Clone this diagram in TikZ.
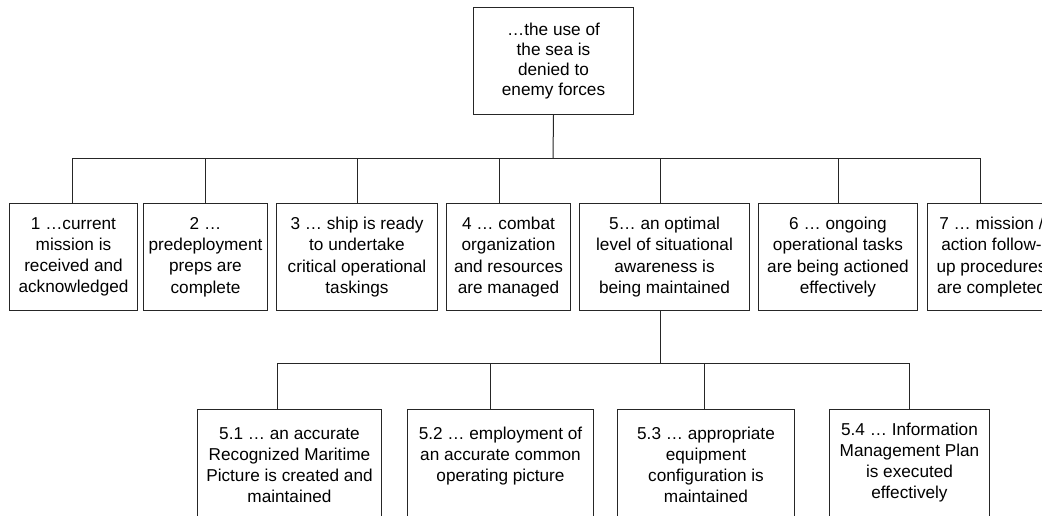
\documentclass[tikz,border=0pt]{standalone}
\usepackage{fontspec}
\setmainfont{Liberation Sans}
\newcommand\toptext[3]{\parbox[c][120pt][t]{#1}{\centering\vspace*{#2}\strut#3}}
\tikzset{
  box/.style={draw=black!85, line width=1pt, fill=white, align=center, inner sep=0pt,
    anchor=north west, font=\fontsize{17.2}{21.2}\selectfont},
  lvlone/.style={box, minimum height=107pt},
  conn/.style={draw=black!85, line width=1pt}
}
\begin{document}
\begin{tikzpicture}[x=1pt,y=-1pt]
\useasboundingbox (0,0) rectangle (1042,515);
\fill[white] (0,0) rectangle (1042,515);
\clip (0,0) rectangle (1042,515);

% top
\node[box, minimum width=160pt, minimum height=107pt, font=\fontsize{17.2}{20.2}\selectfont] (top) at (473,7)
  {…the use of\\the sea is\\denied to\\enemy forces};

% level one
\node[lvlone, minimum width=128pt] (b1) at (9,203) {1 …current\\mission is\\received and\\acknowledged};
\node[lvlone, minimum width=124pt] (b2) at (143,203) {2 …\\predeployment\\preps are\\complete};
\node[lvlone, minimum width=161pt] (b3) at (276,203) {3 … ship is ready\\to undertake\\critical operational\\taskings};
\node[lvlone, minimum width=124pt] (b4) at (446,203) {4 … combat\\organization\\and resources\\are managed};
\node[lvlone, minimum width=170pt] (b5) at (579,203) {5… an optimal\\level of situational\\awareness is\\being maintained};
\node[lvlone, minimum width=159pt] (b6) at (758,203) {6 … ongoing\\operational tasks\\are being actioned\\effectively};
\node[lvlone, minimum width=128pt] (b7) at (927,203) {7 … mission /\\action follow-\\up procedures\\are completed};

% level two
\node[box] (c1) at (197,409) {\toptext{184pt}{15pt}{5.1 … an accurate\\Recognized Maritime\\Picture is created and\\maintained}};
\node[box] (c2) at (407,409) {\toptext{186pt}{15pt}{5.2 … employment of\\an accurate common\\operating picture}};
\node[box] (c3) at (617,409) {\toptext{177pt}{15pt}{5.3 … appropriate\\equipment\\configuration is\\maintained}};
\node[box] (c4) at (829,409) {\toptext{160pt}{11pt}{5.4 … Information\\Management Plan\\is executed\\effectively}};

% bus coordinates
\coordinate (k0) at (553,158);
\coordinate (k1) at (72,158);
\coordinate (k2) at (205,158);
\coordinate (k3) at (357,158);
\coordinate (k4) at (499,158);
\coordinate (k5) at (660,158);
\coordinate (k6) at (838,158);
\coordinate (k7) at (980,158);
\coordinate (m0) at (660,363);
\coordinate (m1) at (277,363);
\coordinate (m2) at (490,363);
\coordinate (m3) at (704,363);
\coordinate (m4) at (909,363);

\draw[conn] (top.south) -- (k0);
\draw[conn] (k1) -- (k7);
\foreach \i in {1,...,7} {\draw[conn] (k\i) -- (k\i |- b\i.north);}
\draw[conn] (b5.south -| m0) -- (m0);
\draw[conn] (m1) -- (m4);
\foreach \i in {1,...,4} {\draw[conn] (m\i) -- (m\i |- c\i.north);}
\end{tikzpicture}
\end{document}
